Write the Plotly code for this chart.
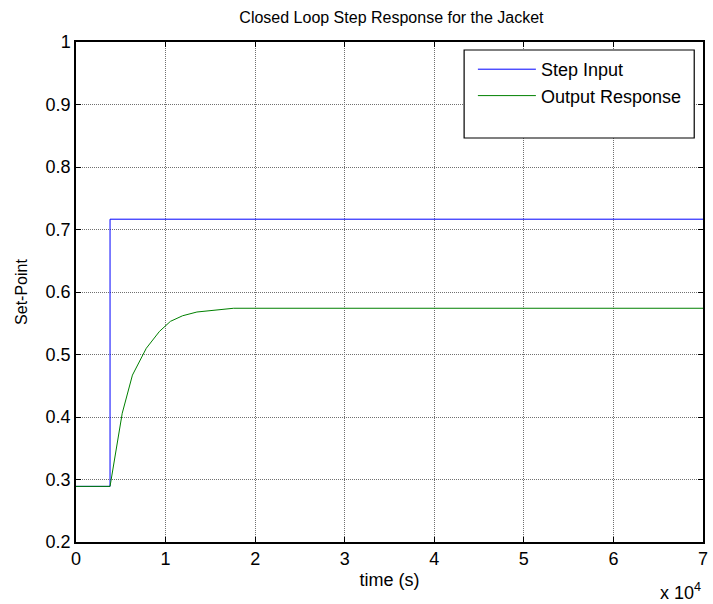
import plotly.graph_objects as go

# Step input (set-point) vs time
step_time = [0, 3800, 3800, 70000]
step_value = [0.289, 0.289, 0.7165, 0.7165]

# Closed-loop output response of the jacket
resp_time = [0, 3800, 5160, 6300, 7850, 9320, 10540, 11900, 13500, 15600, 17600, 70000]
resp_value = [0.289, 0.289, 0.406, 0.467, 0.510, 0.537, 0.553, 0.562, 0.568, 0.571, 0.574, 0.574]

x_ticks = [0, 10000, 20000, 30000, 40000, 50000, 60000, 70000]
x_tick_text = ["0", "1", "2", "3", "4", "5", "6", "7"]
y_ticks = [0.2, 0.3, 0.4, 0.5, 0.6, 0.7, 0.8, 0.9, 1.0]
y_tick_text = ["0.2", "0.3", "0.4", "0.5", "0.6", "0.7", "0.8", "0.9", "1"]

FONT = "Liberation Sans, Arial, sans-serif"

fig = go.Figure()
fig.add_trace(go.Scatter(x=step_time, y=step_value, mode="lines", name="Step Input",
                         legendgroup="a", line=dict(color="rgb(0,0,255)", width=1)))
fig.add_trace(go.Scatter(x=resp_time, y=resp_value, mode="lines", name="Output Response",
                         legendgroup="b", line=dict(color="rgb(0,128,0)", width=1)))

axis_common = dict(
    showline=True, linecolor="black", linewidth=1.5, mirror="ticks",
    ticks="inside", ticklen=5, tickcolor="black", tickwidth=1,
    showgrid=True, gridcolor="#707070", gridwidth=1, griddash="1px,1px",
    zeroline=False, tickfont=dict(family=FONT, size=18, color="black"),
)

fig.update_xaxes(range=[0, 70000], tickvals=x_ticks, ticktext=x_tick_text,
                 title=dict(text="time (s)", font=dict(family=FONT, size=18, color="black"), standoff=5),
                 **axis_common)
fig.update_yaxes(range=[0.2, 1.0], tickvals=y_ticks, ticktext=y_tick_text,
                 title=dict(text="Set-Point", font=dict(family=FONT, size=16, color="black"), standoff=14),
                 **axis_common)

# legend frame
fig.add_shape(type="rect", xref="paper", yref="paper", x0=0.619, x1=0.986, y0=0.808, y1=0.984,
              line=dict(color="black", width=1.2), fillcolor="white", layer="above")

fig.add_annotation(text="x 10<sup>4</sup>", xref="paper", yref="paper", x=1.0, y=-0.125,
                   xanchor="right", yanchor="bottom", showarrow=False,
                   font=dict(family=FONT, size=18, color="black"))

fig.update_layout(
    width=713, height=604,
    margin=dict(l=76, r=5, t=42, b=62),
    paper_bgcolor="white", plot_bgcolor="white",
    title=dict(text="Closed Loop Step Response for the Jacket", x=0.549, xanchor="center",
               y=0.972, yanchor="middle", font=dict(family=FONT, size=16, color="black")),
    showlegend=True,
    legend=dict(x=0.633, y=0.982, xanchor="left", yanchor="top", bgcolor="rgba(0,0,0,0)",
                borderwidth=0, font=dict(family=FONT, size=18, color="black"),
                traceorder="grouped", tracegroupgap=0, itemwidth=58),
)

fig.write_html("out.html")
